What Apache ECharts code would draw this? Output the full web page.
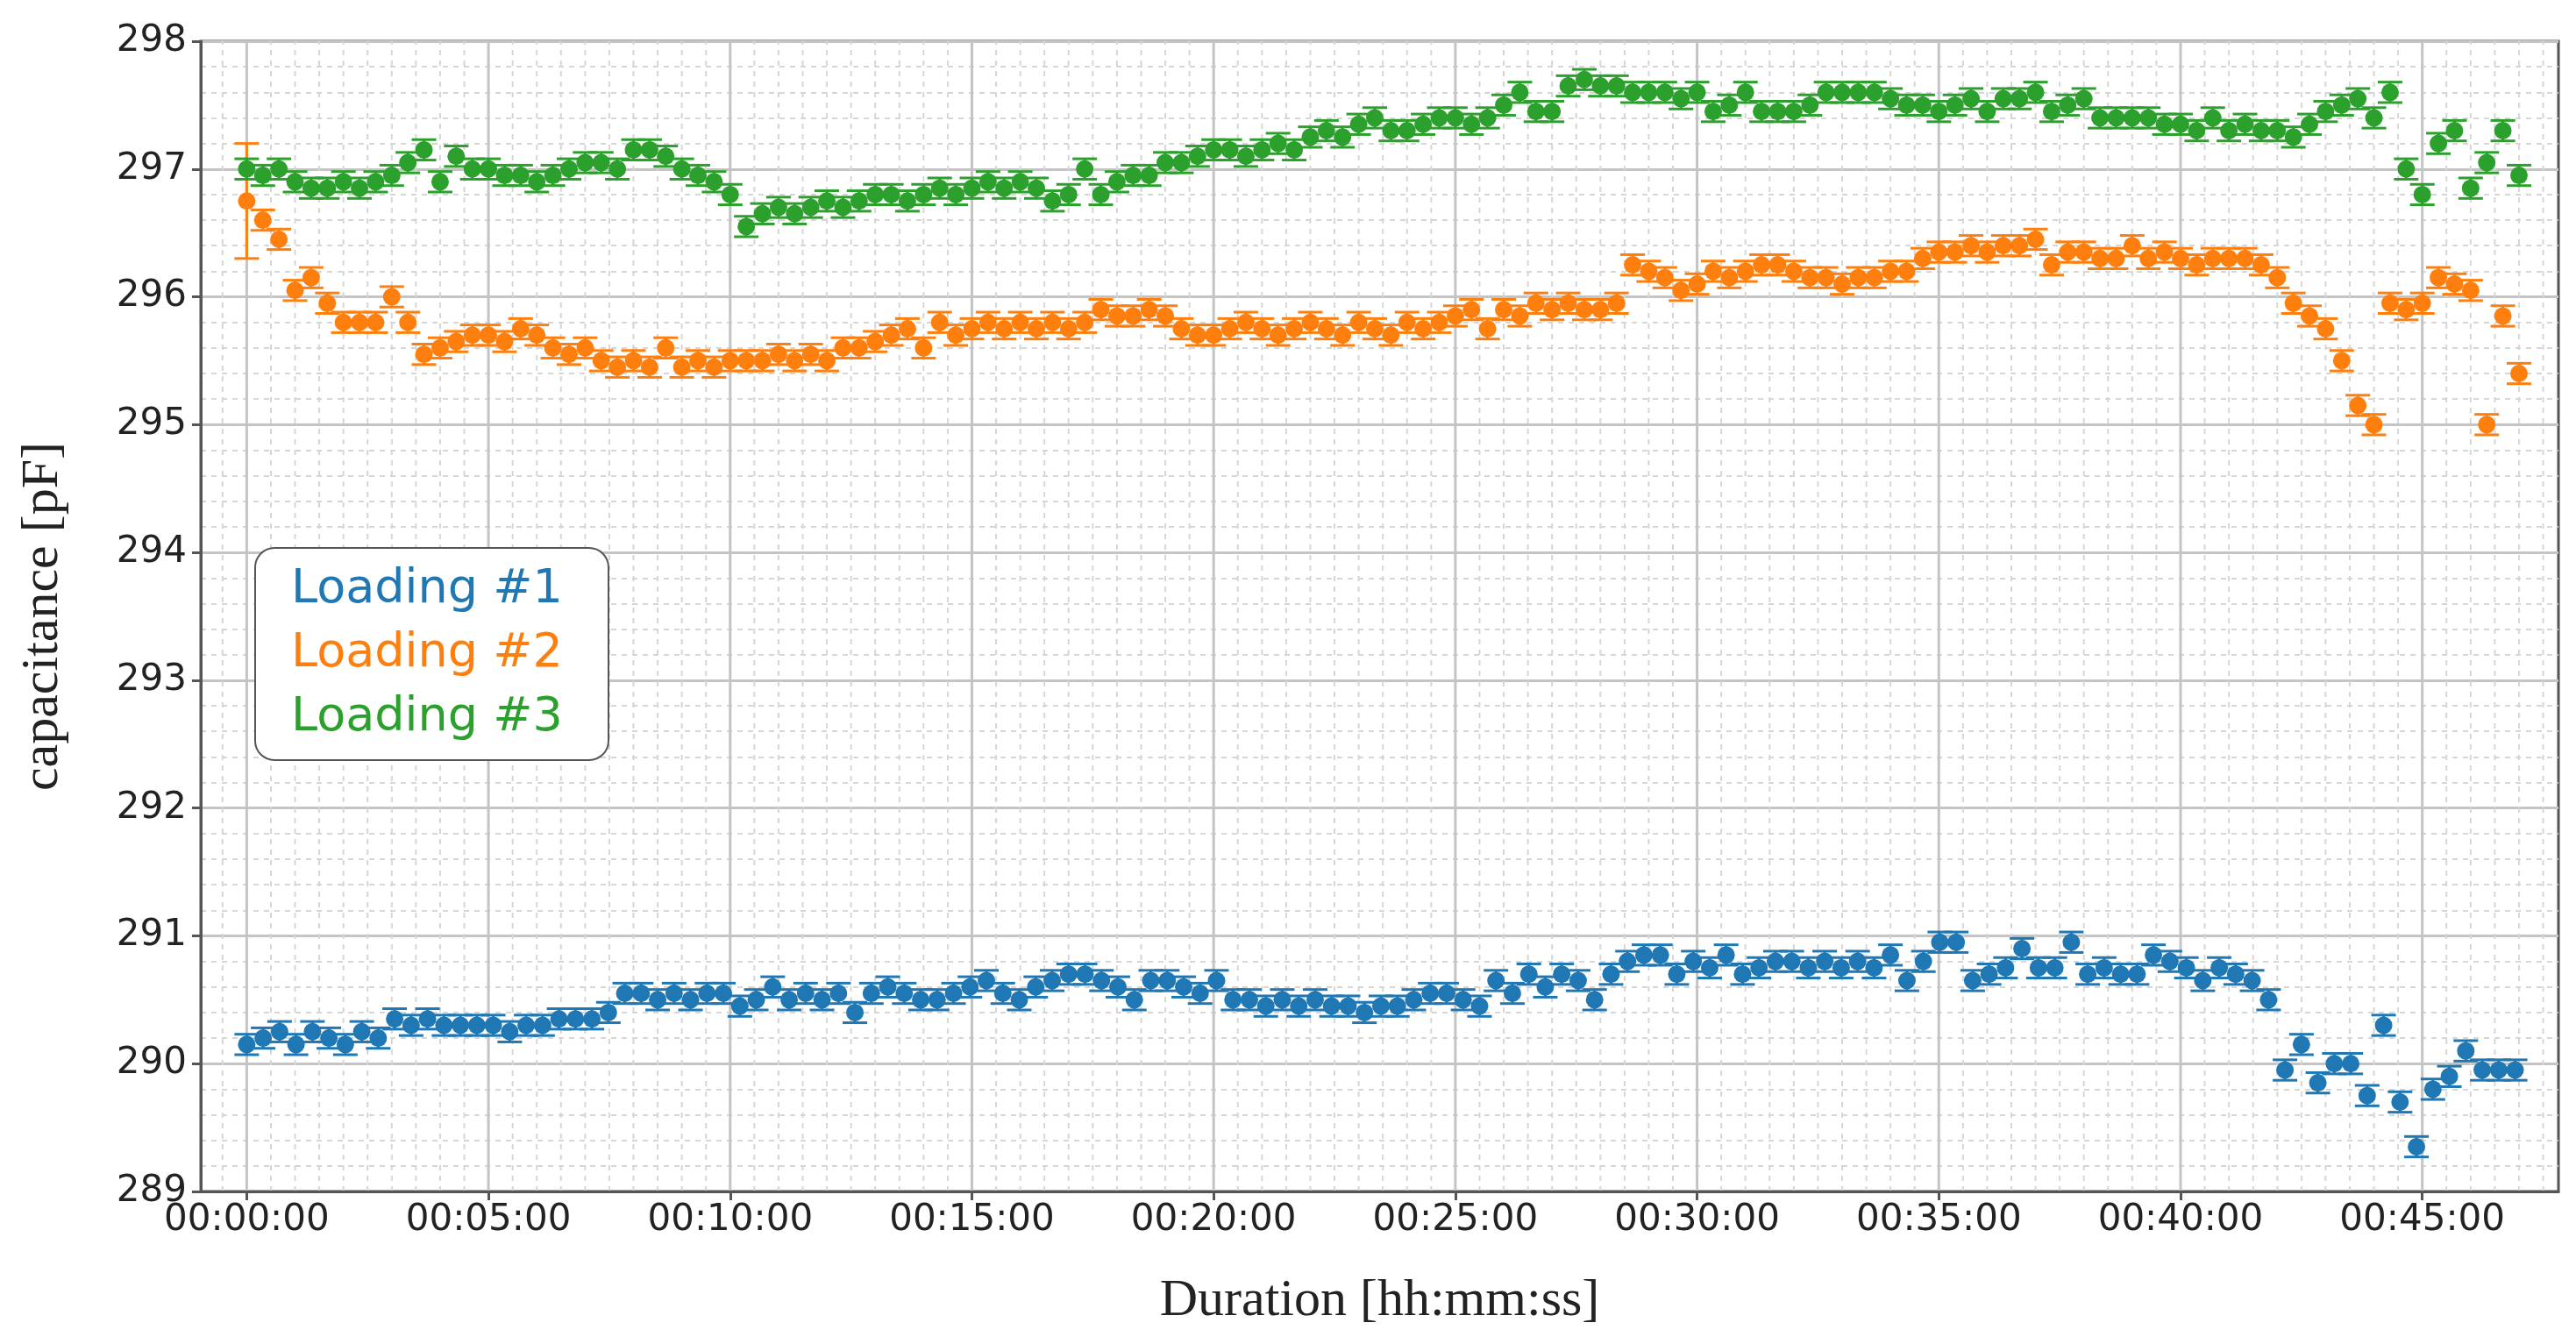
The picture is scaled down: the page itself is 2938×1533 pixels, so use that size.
<!DOCTYPE html>
<html><head><meta charset="utf-8">
<script src="https://cdn.jsdelivr.net/npm/echarts@6/dist/echarts.min.js"></script>
<style>html,body{margin:0;background:#fff}#c{width:2938px;height:1533px}</style>
</head><body><div id="c"></div>
<script>
const STEPS_S = [20.4, 20, 20];
const xTickValues = [0,300,600,900,1200,1500,1800,2100,2400,2700];
const loading1 = [290.15,290.2,290.25,290.15,290.25,290.2,290.15,290.25,290.2,290.35,290.3,290.35,290.3,290.3,290.3,290.3,290.25,290.3,290.3,290.35,290.35,290.35,290.4,290.55,290.55,290.5,290.55,290.5,290.55,290.55,290.45,290.5,290.6,290.5,290.55,290.5,290.55,290.4,290.55,290.6,290.55,290.5,290.5,290.55,290.6,290.65,290.55,290.5,290.6,290.65,290.7,290.7,290.65,290.6,290.5,290.65,290.65,290.6,290.55,290.65,290.5,290.5,290.45,290.5,290.45,290.5,290.45,290.45,290.4,290.45,290.45,290.5,290.55,290.55,290.5,290.45,290.65,290.55,290.7,290.6,290.7,290.65,290.5,290.7,290.8,290.85,290.85,290.7,290.8,290.75,290.85,290.7,290.75,290.8,290.8,290.75,290.8,290.75,290.8,290.75,290.85,290.65,290.8,290.95,290.95,290.65,290.7,290.75,290.9,290.75,290.75,290.95,290.7,290.75,290.7,290.7,290.85,290.8,290.75,290.65,290.75,290.7,290.65,290.5,289.95,290.15,289.85,290.0,290.0,289.75,290.3,289.7,289.35,289.8,289.9,290.1,289.95,289.95,289.95];
const loading2 = [296.75,296.6,296.45,296.05,296.15,295.95,295.8,295.8,295.8,296.0,295.8,295.55,295.6,295.65,295.7,295.7,295.65,295.75,295.7,295.6,295.55,295.6,295.5,295.45,295.5,295.45,295.6,295.45,295.5,295.45,295.5,295.5,295.5,295.55,295.5,295.55,295.5,295.6,295.6,295.65,295.7,295.75,295.6,295.8,295.7,295.75,295.8,295.75,295.8,295.75,295.8,295.75,295.8,295.9,295.85,295.85,295.9,295.85,295.75,295.7,295.7,295.75,295.8,295.75,295.7,295.75,295.8,295.75,295.7,295.8,295.75,295.7,295.8,295.75,295.8,295.85,295.9,295.75,295.9,295.85,295.95,295.9,295.95,295.9,295.9,295.95,296.25,296.2,296.15,296.05,296.1,296.2,296.15,296.2,296.25,296.25,296.2,296.15,296.15,296.1,296.15,296.15,296.2,296.2,296.3,296.35,296.35,296.4,296.35,296.4,296.4,296.45,296.25,296.35,296.35,296.3,296.3,296.4,296.3,296.35,296.3,296.25,296.3,296.3,296.3,296.25,296.15,295.95,295.85,295.75,295.5,295.15,295.0,295.95,295.9,295.95,296.15,296.1,296.05,295.0,295.85,295.4];
const loading3 = [297.0,296.95,297.0,296.9,296.85,296.85,296.9,296.85,296.9,296.95,297.05,297.15,296.9,297.1,297.0,297.0,296.95,296.95,296.9,296.95,297.0,297.05,297.05,297.0,297.15,297.15,297.1,297.0,296.95,296.9,296.8,296.55,296.65,296.7,296.65,296.7,296.75,296.7,296.75,296.8,296.8,296.75,296.8,296.85,296.8,296.85,296.9,296.85,296.9,296.85,296.75,296.8,297.0,296.8,296.9,296.95,296.95,297.05,297.05,297.1,297.15,297.15,297.1,297.15,297.2,297.15,297.25,297.3,297.25,297.35,297.4,297.3,297.3,297.35,297.4,297.4,297.35,297.4,297.5,297.6,297.45,297.45,297.65,297.7,297.65,297.65,297.6,297.6,297.6,297.55,297.6,297.45,297.5,297.6,297.45,297.45,297.45,297.5,297.6,297.6,297.6,297.6,297.55,297.5,297.5,297.45,297.5,297.55,297.45,297.55,297.55,297.6,297.45,297.5,297.55,297.4,297.4,297.4,297.4,297.35,297.35,297.3,297.4,297.3,297.35,297.3,297.3,297.25,297.35,297.45,297.5,297.55,297.4,297.6,297.0,296.8,297.2,297.3,296.85,297.05,297.3,296.95];
const errDefault = 0.08;
const errOverrides2 = {0: 0.45};
const names = ['Loading #1','Loading #2','Loading #3'];
const colors = ['#1f77b4','#ff7f0e','#2ca02c'];

const xGridValues = [];
for (let v = -30; v <= 2850; v += 30) xGridValues.push(v);

function fmt(s){const m=Math.floor(s/60),ss=s%60;return '00:'+String(m).padStart(2,'0')+':'+String(ss).padStart(2,'0');}

function build(vals, step, overrides){
  return vals.map((v,i)=>[i*step, v, (overrides&&overrides[i]!==undefined)?overrides[i]:errDefault]);
}
function errItem(color){
  return function(params, api){
    const t=api.value(0), v=api.value(1), e=api.value(2);
    const p=api.coord([t,v]), lo=api.coord([t,v-e]), hi=api.coord([t,v+e]);
    const cw=14;
    const st={stroke:color,lineWidth:3};
    return {type:'group',children:[
      {type:'line',shape:{x1:p[0],y1:lo[1],x2:p[0],y2:hi[1]},style:st},
      {type:'line',shape:{x1:p[0]-cw,y1:lo[1],x2:p[0]+cw,y2:lo[1]},style:st},
      {type:'line',shape:{x1:p[0]-cw,y1:hi[1],x2:p[0]+cw,y2:hi[1]},style:st},
      {type:'circle',shape:{cx:p[0],cy:p[1],r:10},style:{fill:color}}
    ]};
  };
}
const gridLineItem = function(params, api){
  const x=api.value(0);
  const a=api.coord([x,289]), b=api.coord([x,298]);
  const major = x % 300 === 0;
  return {type:'line',shape:{x1:a[0],y1:a[1],x2:b[0],y2:b[1]},
    style: major?{stroke:'#c4c4c4',lineWidth:3}:{stroke:'#d6d6d6',lineWidth:2,lineDash:[6,6]}};
};

const chart = echarts.init(document.getElementById('c'));
const series = [{type:'custom',silent:true,z:0,renderItem:gridLineItem,data:xGridValues.map(v=>[v])}];
[[loading1,null],[loading2,errOverrides2],[loading3,null]].forEach((d,k)=>{
  series.push({name:names[k],type:'custom',z:2,renderItem:errItem(colors[k]),data:build(d[0],STEPS_S[k],d[1])});
});
chart.setOption({
  animation:false,
  grid:{left:229,right:20,top:47,bottom:174,show:true,borderColor:'#555',borderWidth:3,backgroundColor:'transparent'},
  xAxis:{type:'value',min:-57,max:2869,
    name:'Duration [hh:mm:ss]',nameLocation:'middle',nameGap:95,
    nameTextStyle:{fontFamily:'Liberation Serif',fontSize:60,color:'#222'},
    axisLine:{show:true,onZero:false,lineStyle:{color:'#555',width:3}},
    axisTick:{show:true,customValues:xTickValues,length:10,lineStyle:{color:'#555',width:3}},
    axisLabel:{customValues:xTickValues,formatter:v=>fmt(v),fontFamily:'DejaVu Sans',fontSize:42,color:'#222',margin:12},
    splitLine:{show:false}},
  yAxis:{type:'value',min:289,max:298,interval:1,
    name:'capacitance [pF]',nameLocation:'middle',nameGap:150,
    nameTextStyle:{fontFamily:'Liberation Serif',fontSize:60,color:'#222'},
    axisLine:{show:true,onZero:false,lineStyle:{color:'#555',width:3}},
    axisTick:{show:true,length:10,lineStyle:{color:'#555',width:3}},
    axisLabel:{fontFamily:'DejaVu Sans',fontSize:42,color:'#222',margin:16},
    splitLine:{lineStyle:{color:'#c4c4c4',width:3}},
    minorTick:{show:false,splitNumber:5},
    minorSplitLine:{show:true,lineStyle:{color:'#d6d6d6',width:2,type:[6,6]}}},
  graphic:[
    {type:'rect',left:290,top:624,shape:{width:403,height:242,r:22},style:{fill:'#fff',stroke:'#555',lineWidth:2},z:10},
    ...names.map((n,k)=>({type:'text',left:332,top:646+k*73,style:{text:n,fill:colors[k],font:'54px "DejaVu Sans"'},z:11}))
  ],
  series
});
</script></body></html>
